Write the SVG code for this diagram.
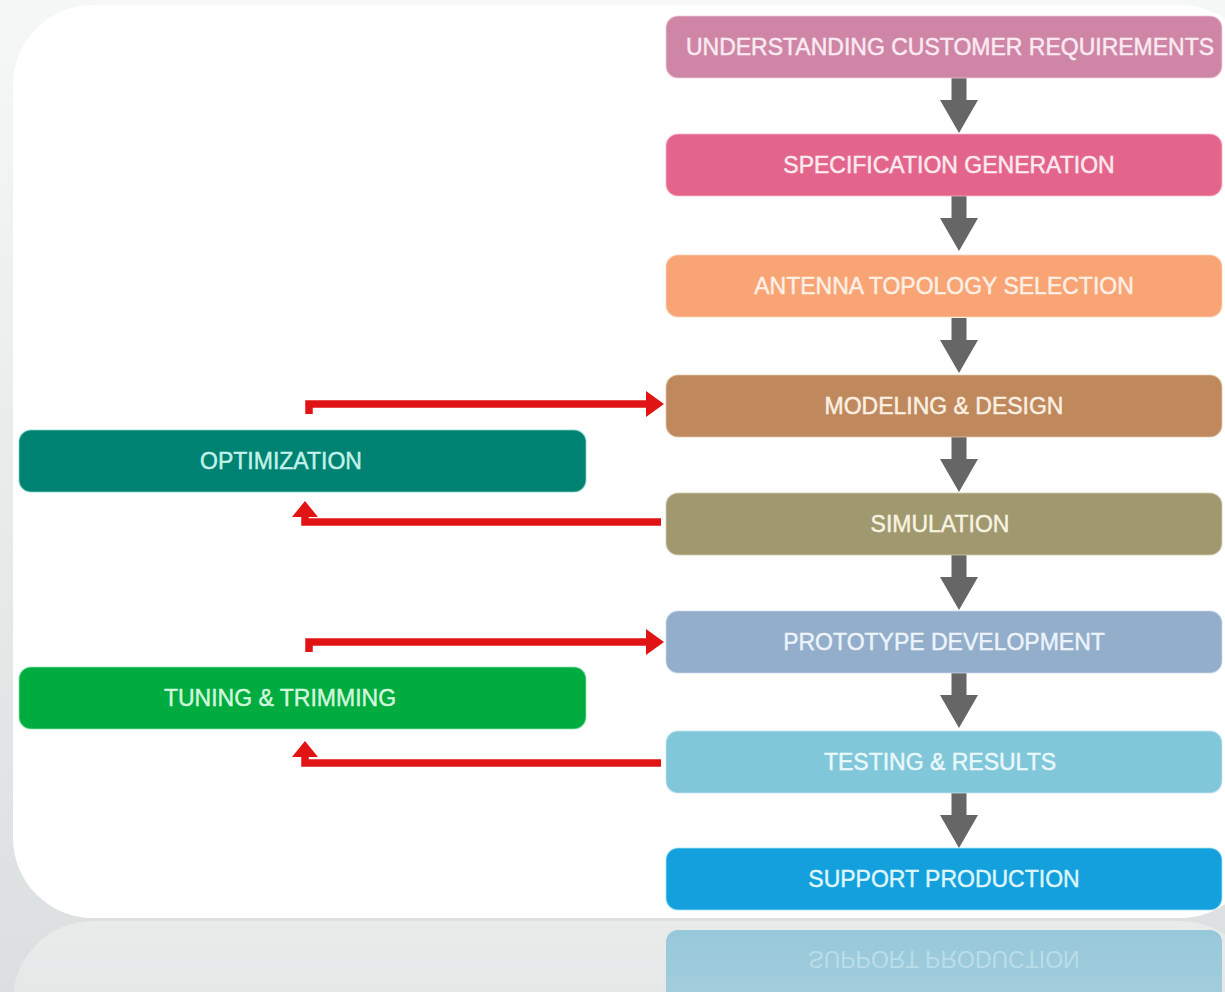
<svg xmlns="http://www.w3.org/2000/svg" width="1225" height="992" viewBox="0 0 1225 992">
<defs>
<linearGradient id="bg" x1="0" y1="0" x2="0" y2="1">
<stop offset="0" stop-color="#f6f7f7"/>
<stop offset="1" stop-color="#dcdfdf"/>
</linearGradient>
<linearGradient id="refl" x1="0" y1="0" x2="0" y2="1">
<stop offset="0" stop-color="#ffffff" stop-opacity="0.35"/>
<stop offset="1" stop-color="#ffffff" stop-opacity="0.15"/>
</linearGradient>
<linearGradient id="reflBox" x1="0" y1="0" x2="0" y2="1">
<stop offset="0" stop-color="#97c8da"/>
<stop offset="1" stop-color="#a6cfdc"/>
</linearGradient>
<marker id="rh" markerWidth="18" markerHeight="26" refX="1" refY="13" orient="auto" markerUnits="userSpaceOnUse">
<path d="M0,0 L18,13 L0,26 Z" fill="#e01414"/>
</marker>
<marker id="rh2" markerWidth="16" markerHeight="26" refX="1" refY="13" orient="auto" markerUnits="userSpaceOnUse">
<path d="M0,0 L16,13 L0,26 Z" fill="#e01414"/>
</marker>
<path id="garrow" d="M-7.5,0 H7.5 V22 H19 L0,55 L-19,22 H-7.5 Z" fill="#666666"/>
</defs>
<style>
.box{stroke-width:1.5;stroke-opacity:0.5}
.t{font-family:"Liberation Sans",Arial,sans-serif;font-size:23px;text-anchor:middle;stroke-width:0.45}
.red{fill:none;stroke:#e01414;stroke-width:7.5;stroke-linejoin:miter}
</style>
<rect x="0" y="0" width="1225" height="992" fill="url(#bg)"/>
<rect x="13" y="921" width="1247" height="200" rx="80" fill="url(#refl)"/>
<rect x="13" y="5" width="1247" height="913" rx="80" fill="#ffffff"/>

<g id="reflection">
<rect x="666" y="930" width="556" height="90" rx="12" fill="url(#reflBox)"/>
<text class="t" x="944" y="888" fill="#b9dde9" transform="translate(0,1839) scale(1,-1)">SUPPORT PRODUCTION</text>
</g>

<g id="connectors">
<use href="#garrow" transform="translate(959,78)"/>
<use href="#garrow" transform="translate(959,196)"/>
<use href="#garrow" transform="translate(959,318)"/>
<use href="#garrow" transform="translate(959,437)"/>
<use href="#garrow" transform="translate(959,555)"/>
<use href="#garrow" transform="translate(959,673)"/>
<use href="#garrow" transform="translate(959,793)"/>
<path class="red" d="M309,414 V404 H647" marker-end="url(#rh)"/>
<path class="red" d="M661,522 H305 V516" marker-end="url(#rh2)"/>
<path class="red" d="M309,652 V642 H647" marker-end="url(#rh)"/>
<path class="red" d="M661,763 H305 V756" marker-end="url(#rh2)"/>
</g>

<g id="n1"><rect class="box" x="666" y="16" width="556" height="62" rx="12" fill="#cf86a6" stroke="#f3c9da"/><text class="t" x="950" y="55" fill="#fbeaf1" stroke="#fbeaf1">UNDERSTANDING CUSTOMER REQUIREMENTS</text></g>
<g id="n2"><rect class="box" x="666" y="134" width="556" height="62" rx="12" fill="#e4658b" stroke="#f6b8c9"/><text class="t" x="949" y="173" fill="#fdeaf0" stroke="#fdeaf0">SPECIFICATION GENERATION</text></g>
<g id="n3"><rect class="box" x="666" y="255" width="556" height="62" rx="12" fill="#f8a474" stroke="#fcd3b9"/><text class="t" x="944" y="294" fill="#fff0e6" stroke="#fff0e6">ANTENNA TOPOLOGY SELECTION</text></g>
<g id="n4"><rect class="box" x="666" y="375" width="556" height="62" rx="12" fill="#bf895d" stroke="#e3c7ad"/><text class="t" x="944" y="414" fill="#fbf0e2" stroke="#fbf0e2">MODELING &amp; DESIGN</text></g>
<g id="n5"><rect class="box" x="666" y="493" width="556" height="62" rx="12" fill="#a0986e" stroke="#d4cfb2"/><text class="t" x="940" y="532" fill="#f7f3e0" stroke="#f7f3e0">SIMULATION</text></g>
<g id="n6"><rect class="box" x="666" y="611" width="556" height="62" rx="12" fill="#92aecb" stroke="#cbdaea"/><text class="t" x="944" y="650" fill="#eef3fa" stroke="#eef3fa">PROTOTYPE DEVELOPMENT</text></g>
<g id="n7"><rect class="box" x="666" y="731" width="556" height="62" rx="12" fill="#80c7da" stroke="#c4e8f1"/><text class="t" x="940" y="770" fill="#eaf8fc" stroke="#eaf8fc">TESTING &amp; RESULTS</text></g>
<g id="n8"><rect class="box" x="666" y="848" width="556" height="62" rx="12" fill="#14a0dd" stroke="#9fe6f6" stroke-opacity="0.9"/><text class="t" x="944" y="887" fill="#dff6fc" stroke="#dff6fc">SUPPORT PRODUCTION</text></g>
<g id="opt"><rect class="box" x="19" y="430" width="567" height="62" rx="12" fill="#008272" stroke="#7fd6cc"/><text class="t" x="281" y="469" fill="#c2f2ea" stroke="#c2f2ea">OPTIMIZATION</text></g>
<g id="tune"><rect class="box" x="19" y="667" width="567" height="62" rx="12" fill="#00ab40" stroke="#8fe6b0"/><text class="t" x="280" y="706" fill="#d2f7dc" stroke="#d2f7dc">TUNING &amp; TRIMMING</text></g>
</svg>
